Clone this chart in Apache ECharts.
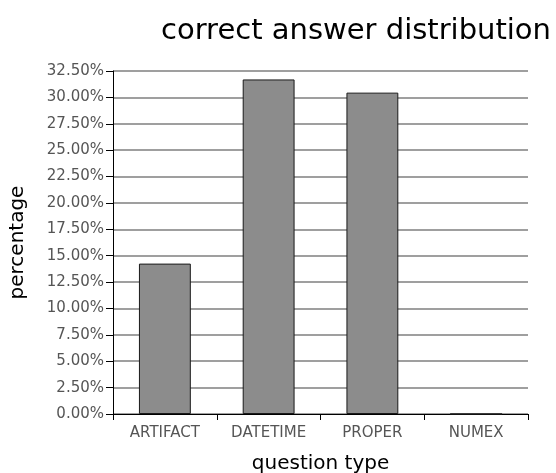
<!DOCTYPE html>
<html>
<head>
<meta charset="utf-8">
<script src="https://cdn.jsdelivr.net/npm/echarts@6/dist/echarts.min.js"></script>
<style>
  html, body { margin: 0; padding: 0; background: #fff; }
  #chart { width: 556px; height: 473px; }
</style>
</head>
<body>
<div id="chart"></div>
<script>
// question types and their share of correct answers (%)
var categories = ["ARTIFACT", "DATETIME", "PROPER", "NUMEX"];
var percentages = [14.25, 31.7, 30.45, 0];

var myChart = echarts.init(document.getElementById("chart"));
var option = {
  backgroundColor: "#ffffff",
  textStyle: { fontFamily: "DejaVu Sans" },
  title: {
    text: "correct answer distribution",
    left: 351,
    top: 12,
    textAlign: "center",
    textStyle: { fontSize: 29, fontWeight: "normal", color: "#000", fontFamily: "DejaVu Sans" }
  },
  grid: { left: 113, right: 28, top: 71, bottom: 59, outerBoundsMode: "none", containLabel: false },
  xAxis: {
    type: "category",
    data: categories,
    name: "question type",
    nameLocation: "middle",
    nameGap: 40,
    nameTextStyle: { fontSize: 20, color: "#000" },
    axisLine: { lineStyle: { color: "#000", width: 1 } },
    axisTick: { show: true, alignWithLabel: false, length: 6, lineStyle: { color: "#000" } },
    axisLabel: { fontSize: 15, color: "#555", margin: 12 }
  },
  yAxis: {
    type: "value",
    min: 0,
    max: 32.5,
    interval: 2.5,
    name: "percentage",
    nameLocation: "middle",
    nameGap: 85,
    nameRotate: 90,
    nameTextStyle: { fontSize: 20, color: "#000" },
    axisLine: { show: true, lineStyle: { color: "#000", width: 1 } },
    axisTick: { show: true, length: 7, lineStyle: { color: "#000" } },
    axisLabel: {
      fontSize: 15,
      color: "#555",
      margin: 9,
      formatter: function (v) { return v.toFixed(2) + "%"; }
    },
    splitLine: { show: true, lineStyle: { color: "#7f7f7f", width: 1.5 } }
  },
  series: [
    {
      type: "bar",
      data: percentages,
      barWidth: "50%",
      itemStyle: { color: "#8c8c8c", borderColor: "#1a1a1a", borderWidth: 1 },
      animation: false
    }
  ]
};
option && myChart.setOption(option);
</script>
</body>
</html>
